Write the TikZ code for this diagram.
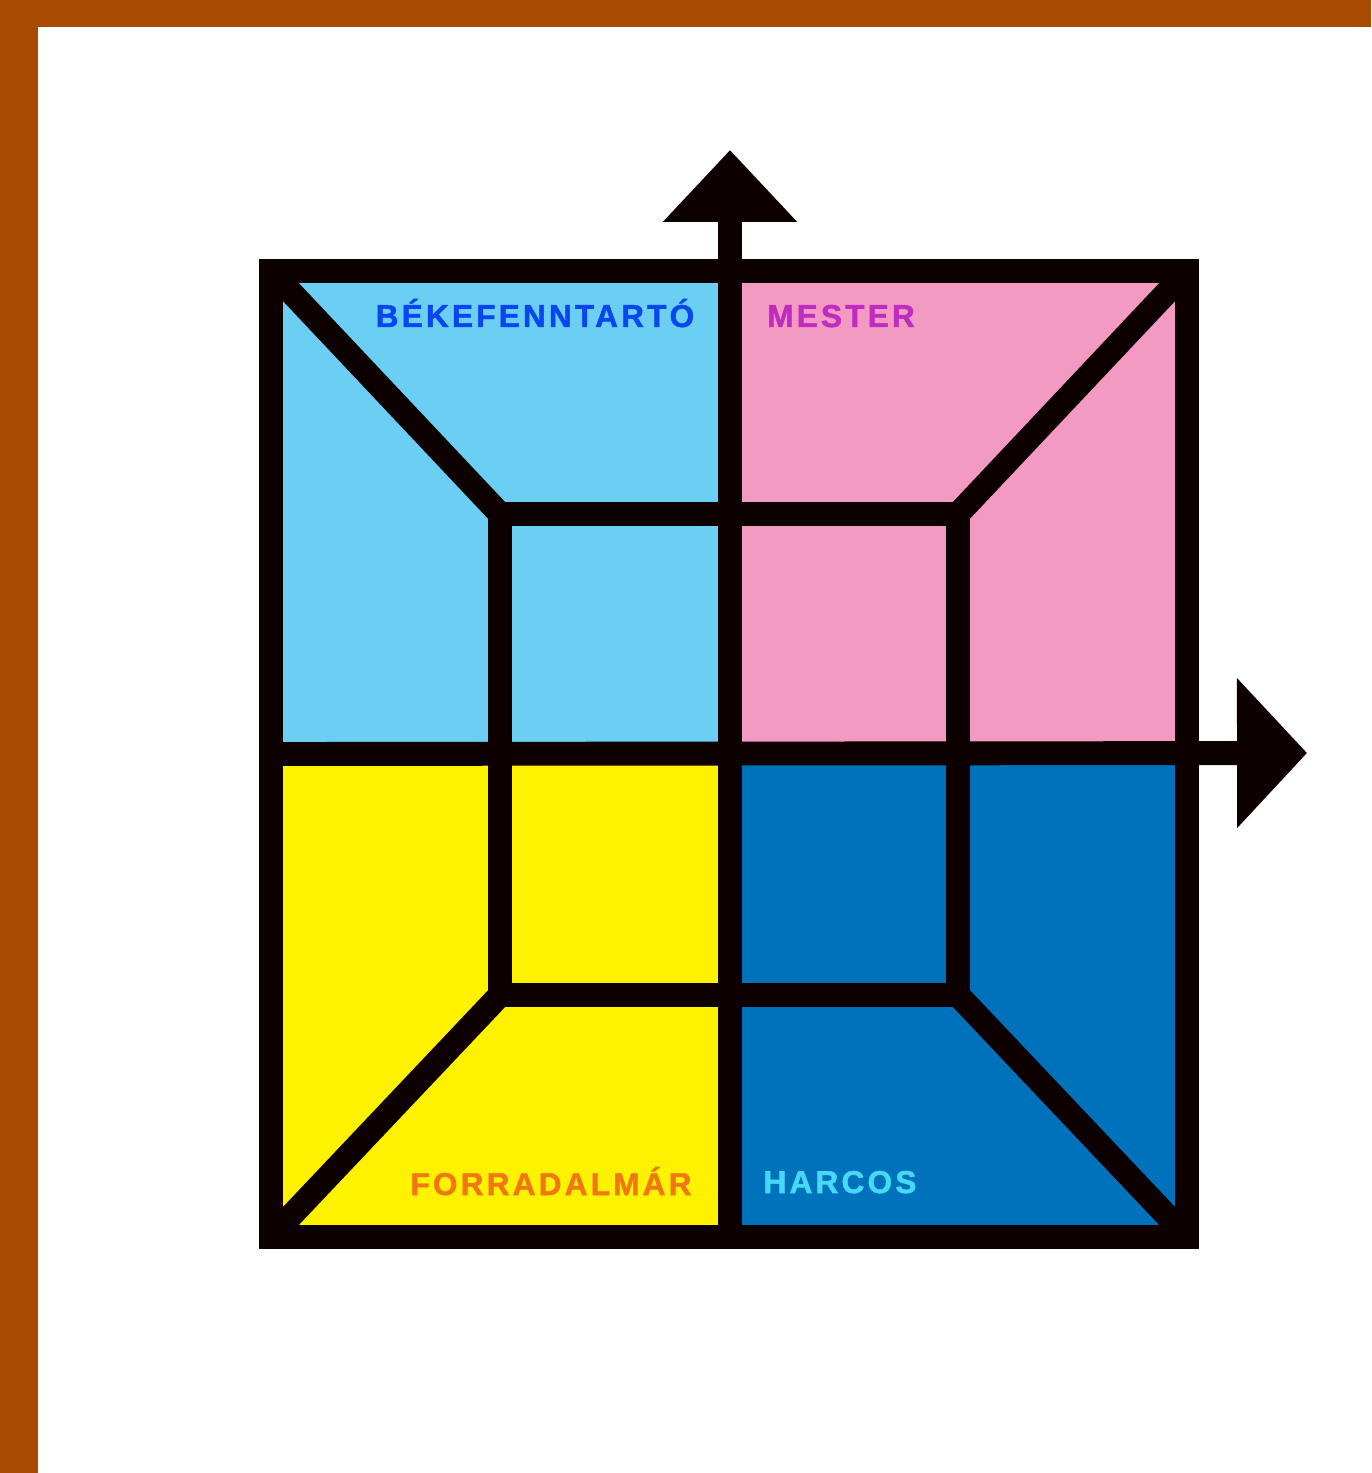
\documentclass[tikz,border=0pt]{standalone}
\usepackage{fontspec}
\newfontfamily\lblfont[LetterSpace=10,BoldFeatures={FakeBold=1.5}]{Liberation Sans}
\usetikzlibrary{arrows.meta,positioning}
\definecolor{rim}{HTML}{A84B00}
\definecolor{ink}{HTML}{0D0000}
\definecolor{skyq}{HTML}{6BCFF4}
\definecolor{pinkq}{HTML}{F39AC2}
\definecolor{yellowq}{HTML}{FFF200}
\definecolor{blueq}{HTML}{0072BC}
\definecolor{txtblue}{HTML}{0A46F0}
\definecolor{txtmag}{HTML}{C02CC0}
\definecolor{txtorange}{HTML}{F07814}
\definecolor{txtcyan}{HTML}{46D8F5}
\tikzset{
	frame/.style={draw=ink, line width=6.8pt, line join=miter},
	axis/.style={draw=ink, line width=6.8pt},
	lbl/.style={font=\lblfont\bfseries\fontsize{9}{9}\selectfont, anchor=base, inner sep=0pt}
}
\begin{document}
\begin{tikzpicture}[x=1cm,y=-1cm]
	\useasboundingbox (0,0) rectangle (13.71,14.73);
	% border
	\fill[rim] (0,0) rectangle (13.71,0.27);
	\fill[rim] (0,0) rectangle (0.38,14.73);
	% corners
	\coordinate (otl) at (2.71,2.71);
	\coordinate (otr) at (11.87,2.71);
	\coordinate (obl) at (2.71,12.37);
	\coordinate (obr) at (11.87,12.37);
	\coordinate (itl) at (5.00,5.14);
	\coordinate (itr) at (9.58,5.14);
	\coordinate (ibl) at (5.00,9.95);
	\coordinate (ibr) at (9.58,9.95);
	\coordinate (mid) at (7.30,7.54);
	% quadrants
	\fill[skyq] (otl) rectangle (mid);
	\fill[pinkq] (otr) rectangle (mid);
	\fill[yellowq] (obl) rectangle (mid);
	\fill[blueq] (obr) rectangle (mid);
	% frames
	\draw[frame] (otl) rectangle (obr);
	\draw[frame] (itl) rectangle (ibr);
	\draw[frame] (otl) -- (itl);
	\draw[frame] (otr) -- (itr);
	\draw[frame] (obl) -- (ibl);
	\draw[frame] (obr) -- (ibr);
	% axes
	\coordinate (ytip) at (7.30,1.50);
	\coordinate (xtip) at (13.07,7.53);
	\coordinate (ybase) at (7.30,12.37);
	\coordinate (xbase) at (2.71,7.54);
	\draw[axis, -{Triangle[length=7.2mm,width=13mm]}] (ybase) -- (ytip);
	\draw[axis, -{Triangle[length=7mm,width=14.6mm]}] (xbase) -- (xtip);
	% labels
	\node[lbl, text=txtblue] (peace) at (5.35,3.27) {BÉKEFENNTARTÓ};
	\node[lbl, text=txtmag] (master) at (8.41,3.27) {MESTER};
	\node[lbl, text=txtorange] (rebel) at (5.51,11.95) {FORRADALMÁR};
	\node[lbl, text=txtcyan] (warrior) at (8.40,11.93) {HARCOS};
\end{tikzpicture}
\end{document}
